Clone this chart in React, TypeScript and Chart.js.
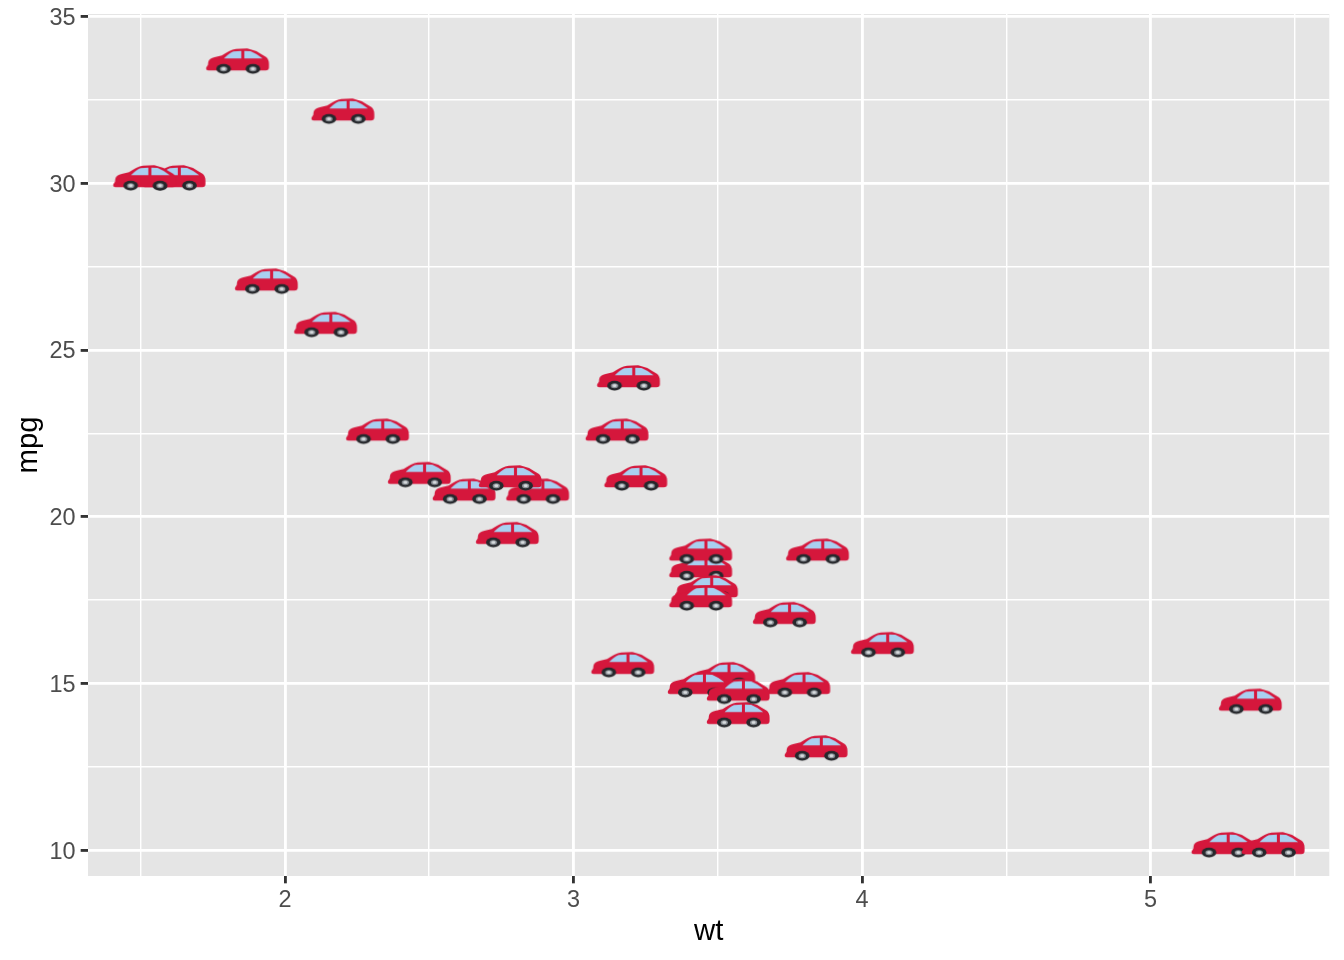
import React, { useEffect, useRef } from "react";
import { Chart, registerables } from "chart.js";

Chart.register(...registerables);

const wt = [2.62, 2.875, 2.32, 3.215, 3.44, 3.46, 3.57, 3.19, 3.15, 3.44, 3.44, 4.07, 3.73, 3.78, 5.25, 5.424, 5.345, 2.2, 1.615, 1.835, 2.465, 3.52, 3.435, 3.84, 3.845, 1.935, 2.14, 1.513, 3.17, 2.77, 3.57, 2.78];
const mpg = [21, 21, 22.8, 21.4, 18.7, 18.1, 14.3, 24.4, 22.8, 19.2, 17.8, 16.4, 17.3, 15.2, 10.4, 10.4, 14.7, 32.4, 30.4, 33.9, 21.5, 15.5, 15.2, 13.3, 19.2, 27.3, 26, 30.4, 15.8, 19.7, 15, 21.4];
const xTicks = [1.5, 2, 2.5, 3, 3.5, 4, 4.5, 5, 5.5];
const xLabelled = [2, 3, 4, 5];
const yTicks = [10, 12.5, 15, 17.5, 20, 22.5, 25, 27.5, 30, 32.5, 35];
const yLabelled = [10, 15, 20, 25, 30, 35];

const FONT = "'Liberation Sans', Arial, sans-serif";

function makeCar(): HTMLCanvasElement {
  const c = document.createElement("canvas");
  c.width = 72;
  c.height = 60;
  const g = c.getContext("2d")!;
  g.translate(36, 30);
  g.scale(1 / 3, 1 / 3);
  g.translate(-712.2, -160);
  (g as any).filter = "blur(0.45px)";
  // shadow below the wheels
  g.fillStyle = "rgba(120,120,120,0.25)";
  for (const cx of [671, 759]) {
    g.beginPath();
    g.ellipse(cx, 214, 19, 9, 0, 0, Math.PI * 2);
    g.fill();
  }
  // body
  g.fillStyle = "#D5173C";
  g.beginPath();
  g.moveTo(626, 212);
  g.quadraticCurveTo(615, 210, 620, 201);
  g.lineTo(624, 195);
  g.lineTo(625, 186);
  g.quadraticCurveTo(628, 175, 644, 172);
  g.lineTo(666, 167);
  g.quadraticCurveTo(688, 150, 708, 147);
  g.lineTo(742, 146);
  g.quadraticCurveTo(766, 151, 784, 163);
  g.lineTo(798, 171);
  g.quadraticCurveTo(807, 178, 807, 192);
  g.lineTo(807, 203);
  g.quadraticCurveTo(807, 212, 797, 212);
  g.closePath();
  g.fill();
  // windows
  g.fillStyle = "#A9D0F0";
  g.beginPath();
  g.moveTo(672, 176);
  g.quadraticCurveTo(688, 160, 700, 155);
  g.lineTo(724, 153);
  g.lineTo(724, 176);
  g.closePath();
  g.fill();
  g.beginPath();
  g.moveTo(733, 153);
  g.lineTo(752, 154);
  g.quadraticCurveTo(772, 162, 788, 176);
  g.lineTo(733, 176);
  g.closePath();
  g.fill();
  // wheels
  for (const cx of [671, 759]) {
    g.fillStyle = "#26282C";
    g.beginPath();
    g.ellipse(cx, 207, 22, 14.5, 0, 0, Math.PI * 2);
    g.fill();
    g.fillStyle = "#8E949A";
    g.beginPath();
    g.ellipse(cx, 207, 11, 7.5, 0, 0, Math.PI * 2);
    g.fill();
    g.fillStyle = "#D9DCDF";
    g.beginPath();
    g.ellipse(cx, 207, 6, 4, 0, 0, Math.PI * 2);
    g.fill();
  }
  return c;
}

const panelBackground = {
  id: "panelBackground",
  beforeDraw(chart: any) {
    const { ctx, chartArea: a } = chart;
    ctx.save();
    ctx.fillStyle = "#E5E5E5";
    ctx.fillRect(a.left, a.top, a.right - a.left, a.bottom - a.top);
    ctx.restore();
  },
};

export default function App() {
  const ref = useRef<HTMLCanvasElement>(null);
  useEffect(() => {
    const car = makeCar();
    const axis = (ticks: number[], labelled: number[], padding: number, labelOffset: number) => ({
      afterBuildTicks(scale: any) {
        scale.ticks = ticks.map((value) => ({ value }));
      },
      grid: {
        color: "#FFFFFF",
        lineWidth: (ctx: any) => (labelled.includes(ctx.tick?.value) ? 2.85 : 1.42),
        tickColor: (ctx: any) => (labelled.includes(ctx.tick?.value) ? "#333333" : "rgba(0,0,0,0)"),
        tickWidth: 2.85,
        tickLength: 7.33,
      },
      border: { display: false },
      ticks: {
        autoSkip: false,
        maxRotation: 0,
        minRotation: 0,
        color: "#4D4D4D",
        padding,
        labelOffset,
        font: { family: FONT, size: 23.47 },
        callback: (v: any) => (labelled.includes(Number(v)) ? String(v) : ""),
      },
    });
    const clearPadding = (scale: any) => {
      scale.paddingTop = 0;
      scale.paddingBottom = 0;
      scale.paddingLeft = 0;
      scale.paddingRight = 0;
    };
    const chart = new Chart(ref.current!, {
      type: "scatter",
      data: {
        datasets: [
          {
            data: wt.map((x, i) => ({ x, y: mpg[i] })),
            pointStyle: car as any,
            pointRadius: 10,
            pointHoverRadius: 10,
          },
        ],
      },
      options: {
        animation: false,
        responsive: false,
        devicePixelRatio: 1,
        layout: { padding: { top: 14, right: 14.67, left: 0, bottom: 0 } },
        plugins: { legend: { display: false }, tooltip: { enabled: false } },
        scales: {
          x: {
            type: "linear",
            min: 1.3175,
            max: 5.6195,
            ...axis(xTicks, xLabelled, 3, 0),
            afterFit(scale: any) {
              scale.height = 84;
              clearPadding(scale);
            },
            title: {
              display: true,
              text: "wt",
              color: "#000000",
              font: { family: FONT, size: 29.33 },
              padding: { top: 0, bottom: 10 },
            },
          } as any,
          y: {
            type: "linear",
            min: 9.225,
            max: 35.075,
            ...axis(yTicks, yLabelled, 5, 2),
            afterFit(scale: any) {
              scale.width = 88;
              clearPadding(scale);
            },
            title: {
              display: true,
              text: "mpg",
              color: "#000000",
              font: { family: FONT, size: 29.33 },
              padding: { top: 11, bottom: 0 },
            },
          } as any,
        },
      },
      plugins: [panelBackground],
    });
    return () => chart.destroy();
  }, []);
  return (
    <div style={{ position: "fixed", left: 0, top: 0, width: 1344, height: 960, background: "#fff" }}>
      <canvas ref={ref} width={1344} height={960} style={{ display: "block" }} />
    </div>
  );
}
